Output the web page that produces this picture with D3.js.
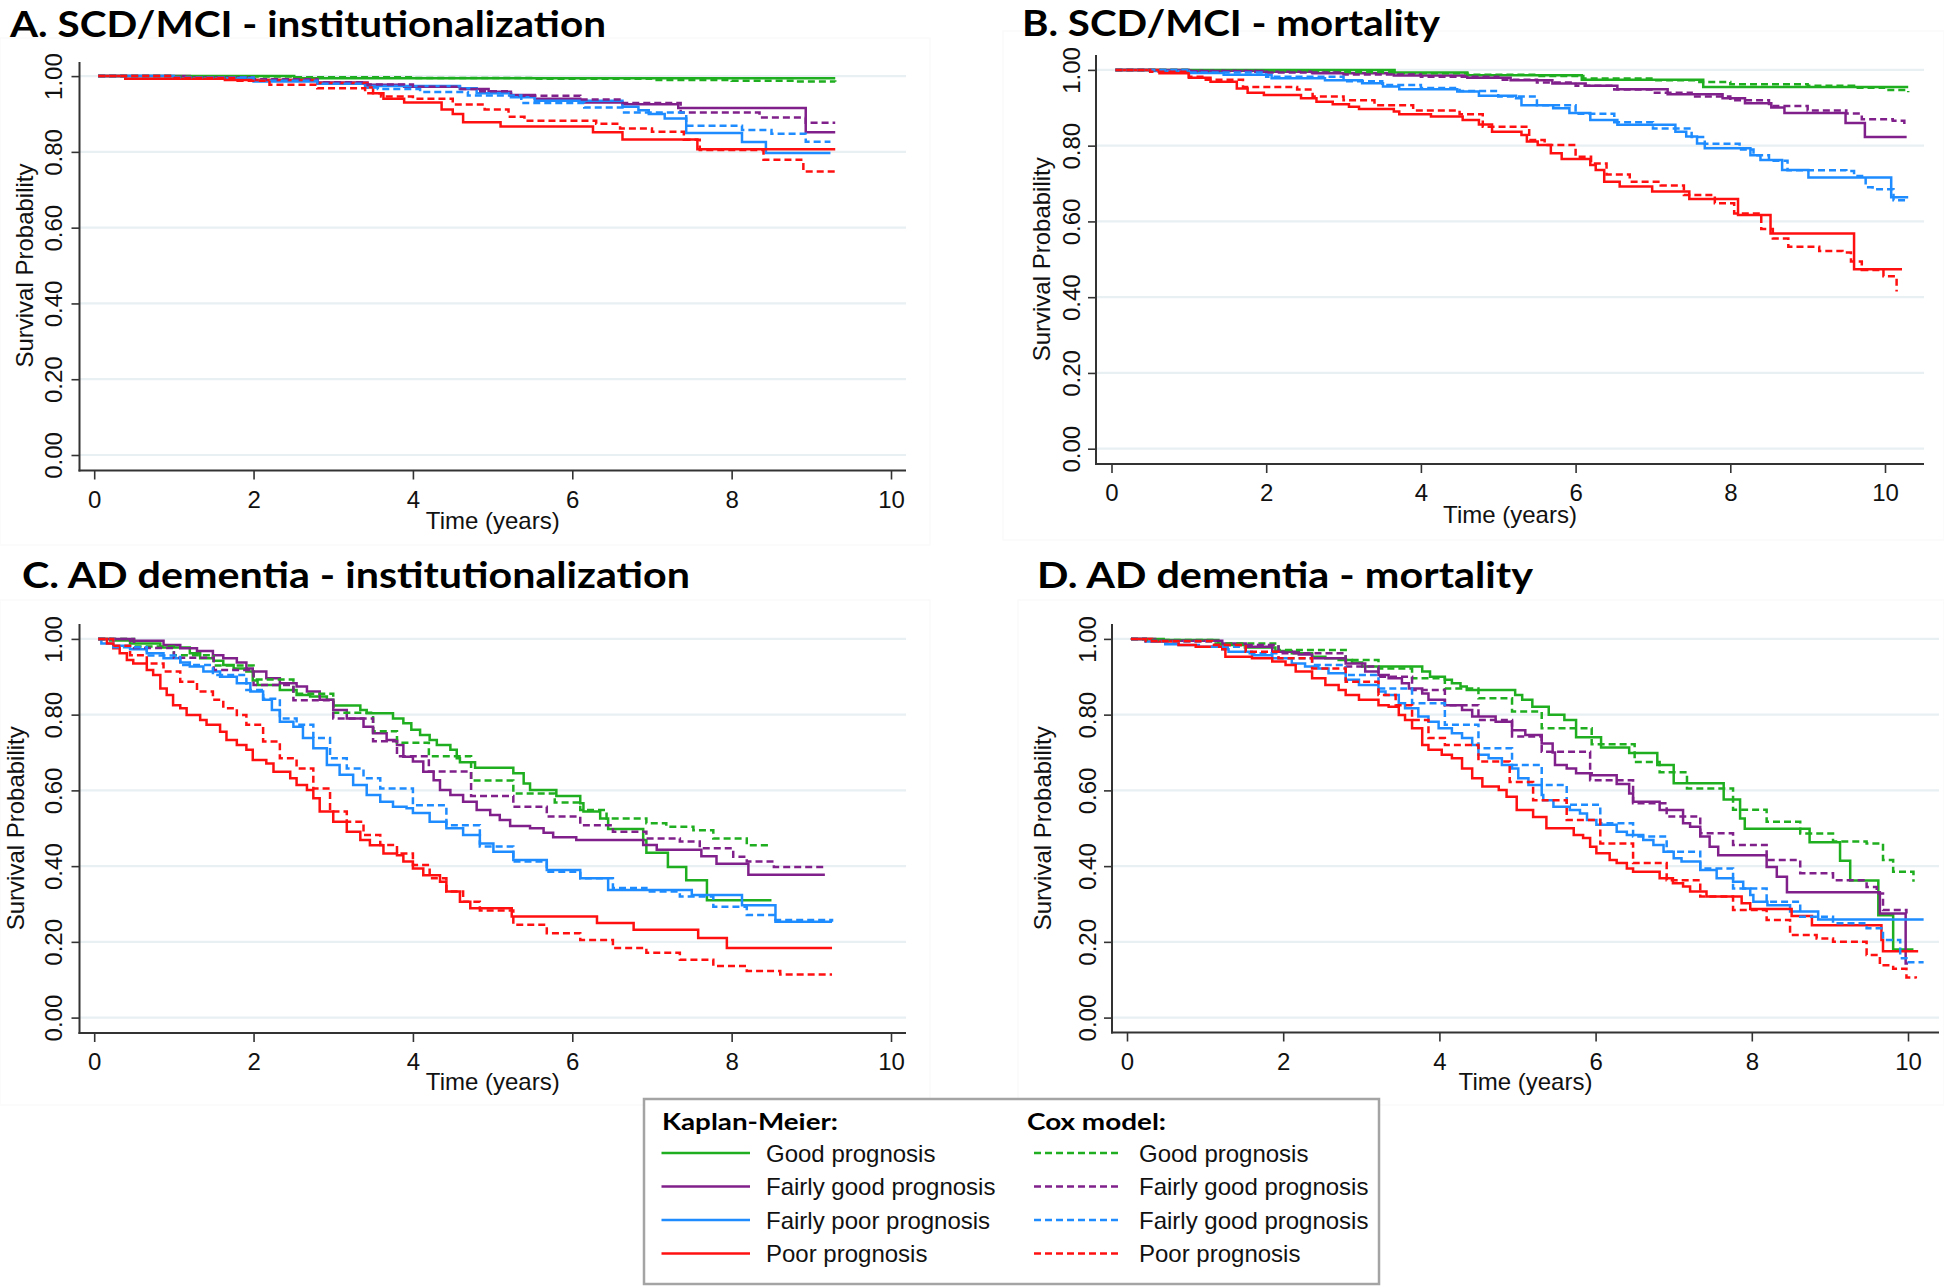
<!DOCTYPE html>
<html><head><meta charset="utf-8">
<script src="https://cdn.jsdelivr.net/npm/d3@7"></script>
<style>body{margin:0;background:#fff}svg{display:block}</style>
</head><body><svg id="c" width="1944" height="1288"></svg>
<script>
// ---------- labels ----------
const timeTicks = [0, 2, 4, 6, 8, 10];
const survTicks = [0, 0.2, 0.4, 0.6, 0.8, 1.0];
const panelTitles = ["A. SCD/MCI - institutionalization", "B. SCD/MCI - mortality",
                     "C. AD dementia - institutionalization", "D. AD dementia - mortality"];
const xAxisTitle = "Time (years)";
const yAxisTitle = "Survival Probability";
const kmLegendTitle = "Kaplan-Meier:";
const coxLegendTitle = "Cox model:";
const kmLegendLabels = ["Good prognosis", "Fairly good prognosis", "Fairly poor prognosis", "Poor prognosis"];
const coxLegendLabels = ["Good prognosis", "Fairly good prognosis", "Fairly good prognosis", "Poor prognosis"];

// ---------- data: [time (years), survival probability] ----------
// Panel A: SCD/MCI - institutionalization
const A_km_good = [[0.05,1],[2.51,0.994],[9.3,0.994]];
const A_cox_good = [[0.05,1],[1,0.999],[2.5,0.997],[4,0.995],[5.5,0.993],[7,0.99],[8,0.988],[8.8,0.986],[9.3,0.985]];
const A_km_fgood = [[0.05,1],[1.2,0.996],[2.0,0.99],[2.8,0.983],[3.43,0.977],[3.89,0.972],[4.59,0.966],[4.95,0.959],[5.23,0.95],[5.53,0.94],[6.1,0.93],[6.63,0.926],[7.33,0.916],[8.93,0.852],[9.3,0.852]];
const A_cox_fgood = [[0.05,1],[1,0.997],[2,0.992],[2.8,0.984],[3.4,0.978],[4.0,0.972],[4.6,0.966],[4.8,0.96],[5.23,0.948],[6.1,0.938],[6.63,0.929],[7.36,0.904],[8.35,0.891],[8.93,0.877],[9.3,0.877]];
const A_km_fpoor = [[0.05,1],[1.0,0.994],[2.0,0.986],[2.8,0.98],[3.43,0.974],[4.59,0.968],[4.8,0.955],[5.23,0.944],[5.53,0.935],[6.63,0.919],[6.83,0.91],[6.96,0.9],[7.16,0.888],[7.43,0.85],[8.13,0.826],[8.43,0.797],[9.24,0.797]];
const A_cox_fpoor = [[0.05,1],[1,0.996],[2,0.988],[2.8,0.98],[3.4,0.97],[3.56,0.966],[4.09,0.958],[4.69,0.949],[5.36,0.929],[6.15,0.917],[6.63,0.904],[7.43,0.869],[8.13,0.858],[8.5,0.848],[8.93,0.827],[9.24,0.827]];
const A_km_poor = [[0.05,1],[0.39,0.993],[1.64,0.99],[2.8,0.982],[3.43,0.97],[3.5,0.955],[3.63,0.94],[3.89,0.93],[4.36,0.912],[4.5,0.9],[4.63,0.878],[5.1,0.867],[6.26,0.852],[6.63,0.833],[7.57,0.807],[9.3,0.807]];
const A_cox_poor = [[0.05,1],[1,0.995],[1.8,0.988],[2.2,0.977],[2.8,0.968],[3.4,0.955],[3.6,0.946],[4.0,0.94],[4.5,0.925],[4.9,0.912],[5.2,0.893],[5.4,0.882],[6.3,0.874],[6.6,0.862],[7.0,0.853],[7.4,0.832],[7.6,0.805],[8.4,0.779],[8.9,0.748],[9.3,0.748]];

// Panel B: SCD/MCI - mortality
const B_km_good = [[0.05,1],[3.66,0.993],[4.6,0.986],[6.08,0.974],[7.65,0.955],[10.3,0.955]];
const B_cox_good = [[0.05,1],[1,0.999],[2,0.997],[3,0.994],[3.7,0.991],[4.6,0.987],[5.5,0.984],[6.1,0.977],[7,0.973],[7.6,0.968],[8,0.962],[9,0.958],[9.6,0.953],[10,0.947],[10.3,0.941]];
const B_km_fgood = [[0.05,1],[1.0,0.998],[1.86,0.995],[2.6,0.991],[3.65,0.985],[4.6,0.979],[5.16,0.973],[5.7,0.964],[6.13,0.958],[6.54,0.949],[7.19,0.936],[7.9,0.925],[8.19,0.912],[8.53,0.901],[8.7,0.886],[9.49,0.86],[9.74,0.823],[10.28,0.823]];
const B_cox_fgood = [[0.05,1],[1,0.997],[2,0.993],[3,0.988],[4,0.982],[5,0.974],[5.5,0.967],[6,0.958],[6.5,0.948],[7,0.94],[7.5,0.93],[8,0.92],[8.5,0.905],[9,0.893],[9.5,0.885],[9.7,0.87],[10.1,0.866],[10.25,0.855]];
const B_km_fpoor = [[0.05,1],[0.5,0.997],[1.0,0.992],[1.45,0.987],[2.07,0.978],[2.76,0.973],[3.24,0.965],[3.51,0.956],[3.72,0.949],[4.47,0.943],[4.75,0.932],[5.23,0.925],[5.3,0.907],[5.71,0.899],[5.92,0.886],[6.19,0.868],[6.54,0.855],[7.29,0.837],[7.43,0.824],[7.57,0.806],[7.67,0.793],[8.26,0.775],[8.39,0.762],[8.67,0.736],[9.01,0.716],[10.08,0.664],[10.3,0.664]];
const B_cox_fpoor = [[0.05,1],[1,0.993],[2,0.982],[3,0.97],[3.5,0.96],[4,0.952],[4.5,0.944],[5,0.93],[5.5,0.907],[6,0.884],[6.5,0.862],[7,0.845],[7.5,0.823],[7.67,0.805],[8.12,0.79],[8.3,0.775],[8.5,0.76],[8.74,0.735],[9.5,0.733],[9.6,0.72],[9.75,0.69],[9.84,0.685],[10.11,0.656],[10.3,0.656]];
const B_km_poor = [[0.05,1],[0.62,0.991],[1.0,0.979],[1.28,0.969],[1.62,0.951],[1.76,0.94],[1.97,0.934],[2.45,0.925],[2.65,0.916],[2.86,0.909],[3.07,0.903],[3.2,0.897],[3.65,0.89],[3.72,0.883],[4.13,0.877],[4.54,0.868],[4.75,0.856],[4.92,0.837],[5.3,0.828],[5.37,0.811],[5.51,0.802],[5.68,0.78],[5.82,0.765],[6.19,0.749],[6.26,0.736],[6.37,0.705],[6.57,0.692],[6.99,0.679],[7.47,0.659],[8.1,0.617],[8.52,0.568],[9.6,0.474],[10.22,0.474]];
const B_cox_poor = [[0.05,1],[0.5,0.995],[1.0,0.982],[1.2,0.974],[1.7,0.955],[2.4,0.948],[2.6,0.93],[3.0,0.92],[3.4,0.907],[3.9,0.893],[4.5,0.883],[4.8,0.85],[5.4,0.815],[5.6,0.802],[6.0,0.771],[6.2,0.753],[6.4,0.724],[6.7,0.705],[7.1,0.695],[7.4,0.67],[7.8,0.648],[8.05,0.621],[8.4,0.58],[8.55,0.555],[8.75,0.533],[9.15,0.522],[9.45,0.518],[9.56,0.494],[9.7,0.472],[9.98,0.455],[10.15,0.415]];

// Panel C: AD dementia - institutionalization
const C_km_good = [[0.05,1],[0.2,0.996],[0.45,0.988],[0.83,0.977],[1.2,0.962],[1.33,0.949],[1.5,0.942],[1.62,0.931],[1.75,0.922],[1.91,0.914],[1.99,0.89],[2.05,0.878],[2.33,0.865],[2.54,0.852],[2.71,0.848],[2.92,0.839],[3.0,0.824],[3.34,0.812],[3.42,0.804],[3.75,0.79],[3.88,0.777],[3.98,0.76],[4.09,0.746],[4.21,0.733],[4.3,0.72],[4.47,0.707],[4.55,0.685],[4.59,0.674],[4.78,0.66],[5.26,0.645],[5.39,0.618],[5.47,0.601],[5.8,0.585],[6.1,0.566],[6.14,0.544],[6.35,0.526],[6.45,0.498],[6.89,0.469],[6.93,0.435],[7.2,0.398],[7.43,0.363],[7.69,0.31],[8.5,0.31]];
const C_cox_good = [[0.05,1],[0.5,0.98],[1.0,0.957],[1.5,0.93],[2.0,0.893],[2.5,0.855],[3.0,0.805],[3.5,0.756],[3.8,0.726],[4.2,0.69],[4.73,0.626],[5.26,0.592],[5.78,0.568],[6.1,0.548],[6.43,0.526],[6.93,0.513],[7.18,0.504],[7.52,0.495],[7.77,0.473],[8.19,0.455],[8.44,0.447]];
const C_km_fgood = [[0.05,1],[0.45,0.995],[0.87,0.984],[1.08,0.975],[1.29,0.968],[1.49,0.957],[1.62,0.949],[1.79,0.938],[1.91,0.922],[1.99,0.914],[2.16,0.896],[2.33,0.883],[2.54,0.874],[2.67,0.861],[2.83,0.839],[3.0,0.812],[3.17,0.79],[3.38,0.768],[3.5,0.751],[3.67,0.733],[3.8,0.72],[3.88,0.689],[4.0,0.676],[4.13,0.649],[4.26,0.627],[4.34,0.601],[4.47,0.588],[4.63,0.57],[4.8,0.548],[4.97,0.535],[5.09,0.522],[5.22,0.506],[5.47,0.5],[5.64,0.488],[5.76,0.476],[6.05,0.469],[6.89,0.456],[7.06,0.443],[7.62,0.426],[7.81,0.406],[8.21,0.377],[9.17,0.377]];
const C_cox_fgood = [[0.05,1],[0.5,0.976],[1.0,0.95],[1.5,0.918],[2.0,0.878],[2.5,0.838],[3.0,0.79],[3.5,0.73],[3.8,0.69],[4.2,0.65],[4.73,0.585],[5.26,0.557],[5.68,0.531],[6.1,0.508],[6.51,0.491],[6.93,0.473],[7.35,0.465],[7.6,0.447],[8.02,0.425],[8.19,0.412],[8.53,0.398],[9.17,0.396]];
const C_km_fpoor = [[0.05,1],[0.09,0.988],[0.24,0.982],[0.45,0.973],[0.66,0.962],[0.87,0.949],[1.08,0.938],[1.2,0.927],[1.37,0.914],[1.58,0.9],[1.79,0.883],[1.96,0.861],[2.12,0.839],[2.23,0.812],[2.33,0.781],[2.5,0.768],[2.62,0.738],[2.75,0.711],[2.92,0.667],[3.08,0.641],[3.25,0.614],[3.42,0.588],[3.59,0.57],[3.75,0.557],[3.92,0.553],[4.0,0.54],[4.21,0.517],[4.42,0.5],[4.63,0.482],[4.84,0.46],[5.01,0.438],[5.26,0.416],[5.68,0.39],[6.1,0.368],[6.45,0.337],[7.5,0.324],[8.13,0.297],[8.55,0.253],[9.26,0.253]];
const C_cox_fpoor = [[0.05,1],[0.24,0.978],[0.66,0.956],[1.08,0.931],[1.49,0.905],[1.91,0.865],[2.12,0.842],[2.33,0.79],[2.54,0.773],[2.75,0.738],[2.96,0.685],[3.17,0.658],[3.38,0.632],[3.59,0.605],[4.0,0.561],[4.42,0.508],[4.84,0.452],[5.26,0.412],[5.68,0.385],[6.1,0.368],[6.51,0.342],[6.93,0.333],[7.35,0.32],[7.77,0.293],[8.19,0.271],[8.53,0.258],[9.26,0.253]];
const C_km_poor = [[0.05,1],[0.16,0.988],[0.24,0.975],[0.32,0.962],[0.41,0.944],[0.49,0.935],[0.66,0.918],[0.74,0.905],[0.83,0.869],[0.91,0.852],[0.99,0.825],[1.08,0.817],[1.16,0.799],[1.33,0.786],[1.41,0.773],[1.58,0.755],[1.66,0.733],[1.79,0.72],[1.91,0.707],[1.99,0.68],[2.16,0.671],[2.25,0.649],[2.46,0.632],[2.54,0.614],[2.67,0.601],[2.75,0.579],[2.83,0.544],[3.0,0.517],[3.17,0.491],[3.34,0.469],[3.46,0.455],[3.63,0.433],[3.8,0.429],[3.88,0.412],[4.0,0.394],[4.13,0.376],[4.34,0.359],[4.42,0.333],[4.59,0.306],[4.72,0.289],[5.24,0.267],[6.31,0.25],[6.77,0.232],[7.58,0.21],[7.94,0.184],[9.26,0.184]];
const C_cox_poor = [[0.05,1],[0.24,0.982],[0.45,0.957],[0.66,0.935],[0.87,0.914],[1.08,0.887],[1.29,0.861],[1.49,0.839],[1.62,0.817],[1.79,0.799],[1.91,0.773],[2.12,0.729],[2.33,0.685],[2.54,0.658],[2.75,0.605],[2.96,0.544],[3.17,0.517],[3.38,0.482],[3.59,0.456],[3.8,0.433],[4.0,0.403],[4.21,0.368],[4.42,0.333],[4.63,0.306],[4.84,0.283],[5.26,0.245],[5.68,0.223],[6.1,0.205],[6.51,0.184],[6.93,0.171],[7.35,0.153],[7.77,0.136],[8.19,0.123],[8.61,0.114],[9.26,0.114]];

// Panel D: AD dementia - mortality
const D_km_good = [[0.05,1],[0.47,0.997],[1.17,0.984],[1.51,0.977],[1.9,0.968],[2.11,0.962],[2.37,0.953],[2.54,0.949],[2.71,0.944],[2.88,0.938],[3.01,0.927],[3.78,0.914],[3.88,0.9],[4.07,0.892],[4.16,0.883],[4.27,0.874],[4.35,0.865],[4.97,0.852],[5.06,0.839],[5.19,0.821],[5.4,0.8],[5.6,0.786],[5.75,0.74],[6.07,0.713],[6.43,0.699],[6.79,0.667],[7.0,0.619],[7.64,0.576],[7.85,0.526],[7.91,0.499],[8.74,0.463],[9.13,0.414],[9.26,0.362],[9.62,0.27],[9.81,0.18],[10.07,0.18]];
const D_cox_good = [[0.05,1],[0.24,0.997],[1.09,0.988],[1.94,0.971],[2.8,0.944],[3.22,0.922],[3.65,0.896],[4.07,0.869],[4.5,0.843],[4.93,0.808],[5.31,0.764],[5.95,0.722],[6.5,0.675],[6.82,0.648],[7.17,0.605],[7.76,0.549],[8.19,0.517],[8.62,0.486],[9.04,0.465],[9.47,0.46],[9.68,0.416],[9.81,0.385],[10.07,0.359]];
const D_km_fgood = [[0.05,1],[0.36,0.995],[1.22,0.988],[1.52,0.979],[1.86,0.966],[2.2,0.959],[2.37,0.949],[2.8,0.935],[3.05,0.914],[3.22,0.905],[3.35,0.896],[3.52,0.883],[3.61,0.869],[3.78,0.856],[3.86,0.839],[4.07,0.825],[4.29,0.812],[4.42,0.795],[4.72,0.781],[4.93,0.759],[5.1,0.746],[5.31,0.724],[5.45,0.7],[5.48,0.667],[5.63,0.658],[5.75,0.645],[5.95,0.64],[6.27,0.617],[6.43,0.592],[6.48,0.57],[6.82,0.548],[7.12,0.513],[7.21,0.504],[7.34,0.478],[7.46,0.451],[7.57,0.429],[8.19,0.398],[8.32,0.372],[8.45,0.331],[9.64,0.275],[9.97,0.143],[10.0,0.143]];
const D_cox_fgood = [[0.05,1],[0.24,0.995],[1.09,0.984],[1.94,0.962],[2.8,0.927],[3.22,0.9],[3.65,0.865],[4.07,0.825],[4.5,0.786],[4.93,0.742],[5.31,0.702],[5.93,0.627],[6.48,0.566],[6.91,0.531],[7.34,0.487],[7.76,0.456],[8.19,0.416],[8.62,0.381],[9.04,0.363],[9.47,0.345],[9.6,0.328],[9.68,0.284],[9.98,0.275]];
const D_km_fpoor = [[0.05,1],[0.24,0.993],[0.49,0.986],[0.66,0.984],[0.92,0.979],[1.22,0.973],[1.3,0.966],[1.6,0.957],[1.86,0.949],[2.11,0.935],[2.28,0.927],[2.45,0.922],[2.58,0.909],[2.8,0.892],[2.97,0.878],[3.22,0.861],[3.31,0.852],[3.48,0.83],[3.56,0.817],[3.73,0.795],[3.86,0.781],[3.99,0.764],[4.16,0.751],[4.29,0.738],[4.42,0.72],[4.5,0.694],[4.63,0.685],[4.8,0.667],[4.93,0.658],[5.01,0.632],[5.14,0.614],[5.31,0.588],[5.33,0.574],[5.46,0.557],[5.67,0.548],[5.8,0.539],[5.89,0.522],[6.01,0.509],[6.27,0.491],[6.4,0.482],[6.61,0.469],[6.74,0.456],[6.87,0.438],[7.0,0.421],[7.1,0.412],[7.34,0.39],[7.55,0.368],[7.76,0.359],[7.89,0.341],[7.98,0.324],[8.02,0.306],[8.2,0.297],[8.49,0.28],[8.85,0.259],[10.2,0.259]];
const D_cox_fpoor = [[0.05,1],[0.24,0.993],[1.09,0.979],[1.52,0.962],[1.94,0.949],[2.37,0.931],[2.8,0.905],[3.22,0.869],[3.65,0.83],[4.07,0.773],[4.5,0.711],[4.93,0.667],[5.31,0.614],[5.63,0.562],[6.06,0.513],[6.48,0.478],[6.91,0.438],[7.34,0.394],[7.76,0.341],[8.19,0.306],[8.62,0.266],[9.04,0.249],[9.47,0.236],[9.68,0.205],[9.9,0.157],[9.98,0.146],[10.2,0.146]];
const D_km_poor = [[0.05,1],[0.32,0.993],[0.66,0.984],[0.88,0.979],[1.22,0.973],[1.26,0.953],[1.6,0.949],[1.86,0.94],[2.03,0.931],[2.16,0.914],[2.37,0.896],[2.54,0.878],[2.71,0.865],[2.8,0.852],[2.97,0.839],[3.22,0.825],[3.35,0.821],[3.48,0.799],[3.56,0.786],[3.65,0.764],[3.78,0.72],[3.86,0.707],[4.03,0.694],[4.16,0.685],[4.29,0.658],[4.42,0.632],[4.55,0.61],[4.76,0.601],[4.86,0.583],[4.99,0.548],[5.2,0.53],[5.37,0.5],[5.72,0.482],[5.84,0.474],[5.93,0.451],[6.01,0.434],[6.18,0.416],[6.27,0.408],[6.4,0.394],[6.48,0.385],[6.82,0.368],[6.99,0.355],[7.12,0.346],[7.21,0.333],[7.42,0.32],[7.87,0.302],[7.98,0.287],[8.51,0.268],[8.77,0.244],[9.66,0.205],[9.68,0.175],[10.13,0.175]];
const D_cox_poor = [[0.05,1],[0.24,0.994],[1.09,0.984],[1.52,0.966],[1.94,0.949],[2.37,0.922],[2.8,0.887],[3.22,0.852],[3.44,0.825],[3.65,0.786],[3.86,0.738],[4.07,0.72],[4.5,0.676],[4.9,0.622],[5.2,0.574],[5.63,0.522],[6.06,0.46],[6.48,0.408],[6.91,0.363],[7.34,0.32],[7.76,0.284],[8.19,0.258],[8.49,0.218],[8.83,0.209],[9.04,0.2],[9.47,0.165],[9.64,0.138],[9.81,0.129],[9.98,0.106],[10.1,0.103]];

// ---------- styles & layout ----------
const groupColors = ["#1fae1f", "#80208a", "#1e8cff", "#ff1010"];
const FONT = "'Liberation Sans', Arial, sans-serif";
const TITLEFONT = "Lato, 'Open Sans', sans-serif";
const panels = [
  {title: panelTitles[0], km: [A_km_good, A_km_fgood, A_km_fpoor, A_km_poor], cox: [A_cox_good, A_cox_fgood, A_cox_fpoor, A_cox_poor],
   xr: [94.2, 891], yr: [455, 76.1], axisX: 79.5, right: 906, top: 62, bottom: 470.5, ytickX: 62, ylabX: 33, xtickY: 508, xlabY: 528.5,
   titleX: 10, titleY: 37, titleW: 596, frame: [0, 38, 930, 545]},
  {title: panelTitles[1], km: [B_km_good, B_km_fgood, B_km_fpoor, B_km_poor], cox: [B_cox_good, B_cox_fgood, B_cox_fpoor, B_cox_poor],
   xr: [1111.5, 1885], yr: [448.7, 69.9], axisX: 1096, right: 1924, top: 55, bottom: 464, ytickX: 1079.5, ylabX: 1050, xtickY: 501, xlabY: 523,
   titleX: 1022, titleY: 36, titleW: 418, frame: [1003, 31, 1944, 540]},
  {title: panelTitles[2], km: [C_km_good, C_km_fgood, C_km_fpoor, C_km_poor], cox: [C_cox_good, C_cox_fgood, C_cox_fpoor, C_cox_poor],
   xr: [94.2, 891], yr: [1017.6, 638.9], axisX: 79.5, right: 906, top: 624, bottom: 1033, ytickX: 62, ylabX: 24, xtickY: 1069.5, xlabY: 1090,
   titleX: 22, titleY: 587.5, titleW: 668, frame: [0, 600, 930, 1105]},
  {title: panelTitles[3], km: [D_km_good, D_km_fgood, D_km_fpoor, D_km_poor], cox: [D_cox_good, D_cox_fgood, D_cox_fpoor, D_cox_poor],
   xr: [1127, 1908], yr: [1017.6, 638.9], axisX: 1112, right: 1939, top: 624, bottom: 1032.5, ytickX: 1096, ylabX: 1050.5, xtickY: 1069.5, xlabY: 1090,
   titleX: 1037, titleY: 587.5, titleW: 496, frame: [1018, 600, 1944, 1105]}
];

const svg = d3.select("#c");
svg.append("rect").attr("width", 1944).attr("height", 1288).attr("fill", "#fff");

panels.forEach(p => {
  const g = svg.append("g");
  g.append("rect").attr("x", p.frame[0]).attr("y", p.frame[1])
    .attr("width", p.frame[2] - p.frame[0]).attr("height", p.frame[3] - p.frame[1])
    .attr("fill", "none").attr("stroke", "#f9f9f9").attr("stroke-width", 1.2);

  const x = d3.scaleLinear().domain([0, 10]).range(p.xr);
  const y = d3.scaleLinear().domain([0, 1]).range(p.yr);

  g.append("g").selectAll("line").data(survTicks).join("line")
    .attr("x1", p.axisX).attr("x2", p.right)
    .attr("y1", d => y(d)).attr("y2", d => y(d))
    .attr("stroke", "#e8f0f3").attr("stroke-width", 2.2);

  const ya = g.append("g").attr("transform", `translate(${p.axisX},0)`)
    .call(d3.axisLeft(y).tickValues(survTicks).tickFormat(d3.format(".2f")).tickSize(8).tickSizeOuter(0));
  ya.select(".domain").remove();
  ya.selectAll(".tick line").attr("stroke", "#333").attr("stroke-width", 1.6);
  ya.selectAll(".tick text").attr("transform", "rotate(-90)").attr("x", 0).attr("dy", null)
    .attr("y", p.ytickX - p.axisX).attr("text-anchor", "middle")
    .attr("font-family", FONT).attr("font-size", 24).attr("fill", "#111");
  g.append("line").attr("x1", p.axisX).attr("x2", p.axisX).attr("y1", p.top).attr("y2", p.bottom + 1)
    .attr("stroke", "#333").attr("stroke-width", 2);

  const xa = g.append("g").attr("transform", `translate(0,${p.bottom})`)
    .call(d3.axisBottom(x).tickValues(timeTicks).tickFormat(d3.format("d")).tickSize(9).tickSizeOuter(0));
  xa.select(".domain").remove();
  xa.selectAll(".tick line").attr("stroke", "#333").attr("stroke-width", 1.6);
  xa.selectAll(".tick text").attr("y", p.xtickY - p.bottom).attr("dy", null)
    .attr("font-family", FONT).attr("font-size", 24).attr("fill", "#111");
  g.append("line").attr("x1", p.axisX - 1).attr("x2", p.right).attr("y1", p.bottom).attr("y2", p.bottom)
    .attr("stroke", "#333").attr("stroke-width", 2);

  g.append("text").attr("x", (p.axisX + p.right) / 2).attr("y", p.xlabY).attr("text-anchor", "middle")
    .attr("font-family", FONT).attr("font-size", 24).attr("fill", "#111").text(xAxisTitle);
  g.append("text").attr("transform", `translate(${p.ylabX},${(p.yr[0] + p.yr[1]) / 2}) rotate(-90)`)
    .attr("text-anchor", "middle").attr("font-family", FONT).attr("font-size", 24).attr("fill", "#111").text(yAxisTitle);

  g.append("text").attr("x", p.titleX).attr("y", p.titleY)
    .attr("font-family", TITLEFONT).attr("font-weight", 700).attr("font-size", 36).attr("fill", "#000")
    .attr("textLength", p.titleW).attr("lengthAdjust", "spacingAndGlyphs").text(p.title);

  const line = d3.line().x(d => x(d[0])).y(d => y(d[1])).curve(d3.curveStepAfter);
  p.km.forEach((s, i) => {
    g.append("path").attr("d", line(s)).attr("fill", "none")
      .attr("stroke", groupColors[i]).attr("stroke-width", 2.5).attr("stroke-linejoin", "miter");
  });
  p.cox.forEach((s, i) => {
    g.append("path").attr("d", line(s)).attr("fill", "none")
      .attr("stroke", groupColors[i]).attr("stroke-width", 2.5).attr("stroke-dasharray", "7,4");
  });
});

// ---------- legend ----------
const lg = svg.append("g");
lg.append("rect").attr("x", 644).attr("y", 1099).attr("width", 735).attr("height", 185)
  .attr("fill", "#fff").attr("stroke", "#a4a4a4").attr("stroke-width", 2.5);
lg.append("text").attr("x", 662).attr("y", 1130).attr("font-family", TITLEFONT).attr("font-weight", 700)
  .attr("font-size", 23).attr("textLength", 176).attr("lengthAdjust", "spacingAndGlyphs").attr("fill", "#000").text(kmLegendTitle);
lg.append("text").attr("x", 1027).attr("y", 1130).attr("font-family", TITLEFONT).attr("font-weight", 700)
  .attr("font-size", 23).attr("textLength", 139).attr("lengthAdjust", "spacingAndGlyphs").attr("fill", "#000").text(coxLegendTitle);
const rowY = d3.scaleLinear().domain([0, 3]).range([1161.5, 1262]);
kmLegendLabels.forEach((lab, i) => {
  lg.append("line").attr("x1", 661.5).attr("x2", 750).attr("y1", rowY(i) - 8.5).attr("y2", rowY(i) - 8.5)
    .attr("stroke", groupColors[i]).attr("stroke-width", 2.5);
  lg.append("text").attr("x", 766).attr("y", rowY(i)).attr("font-family", FONT).attr("font-size", 24)
    .attr("fill", "#111").text(lab);
});
coxLegendLabels.forEach((lab, i) => {
  lg.append("line").attr("x1", 1034).attr("x2", 1122).attr("y1", rowY(i) - 8.5).attr("y2", rowY(i) - 8.5)
    .attr("stroke", groupColors[i]).attr("stroke-width", 2.5).attr("stroke-dasharray", "7,4");
  lg.append("text").attr("x", 1139).attr("y", rowY(i)).attr("font-family", FONT).attr("font-size", 24)
    .attr("fill", "#111").text(lab);
});
</script>
</body></html>
